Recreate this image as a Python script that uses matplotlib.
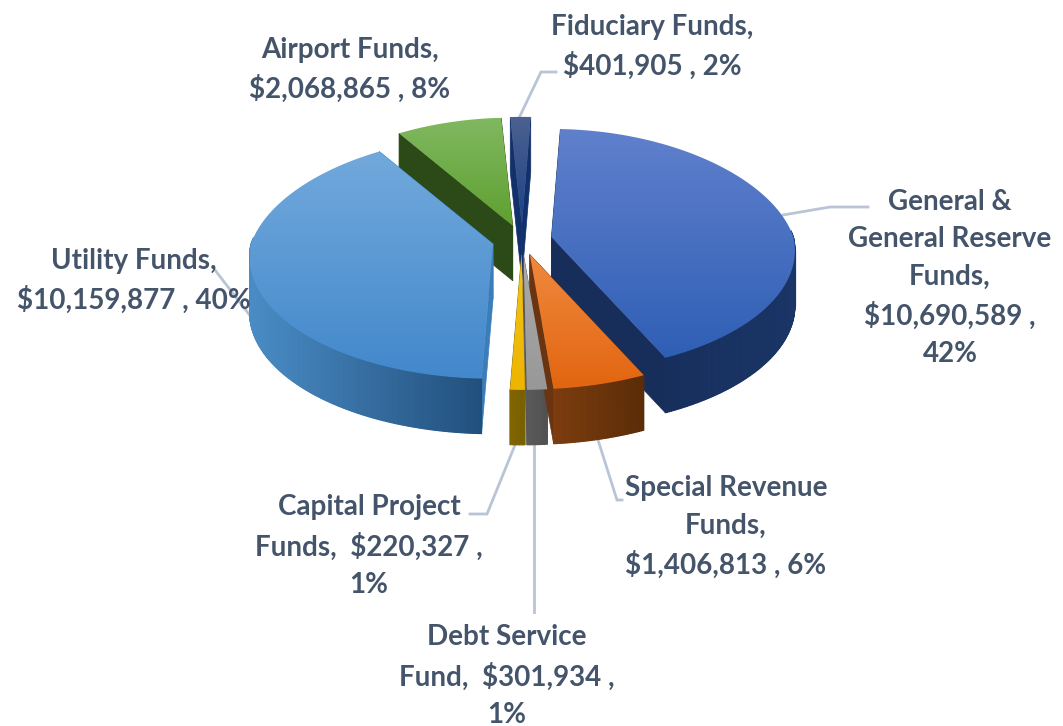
import numpy as np
import matplotlib
matplotlib.use("Agg")
import matplotlib.pyplot as plt
from matplotlib.colors import LinearSegmentedColormap, to_rgb
from matplotlib.patches import Polygon

# values, clockwise from the top of the pie
funds = ["General", "Special", "Debt", "Capital", "Utility", "Airport", "Fiduciary"]
amounts = [10690589, 1406813, 301934, 220327, 10159877, 2068865, 401905]

label_texts = [
    "General &\nGeneral Reserve\nFunds,\n$10,690,589 ,\n42%",
    "Special Revenue\nFunds,\n$1,406,813 , 6%",
    "Debt Service\nFund,  $301,934 ,\n1%",
    "Capital Project\nFunds,  $220,327 ,\n1%",
    "Utility Funds,\n$10,159,877 , 40%",
    "Airport Funds,\n$2,068,865 , 8%",
    "Fiduciary Funds,\n$401,905 , 2%",
]

# label centres in pixels
label_pos = [(950, 278), (726, 527), (507, 676), (369, 546), (134, 281), (350, 70), (652, 47)]

leaders = [
    [(783, 215), (830, 207), (868, 207)],
    [(598, 440), (617, 500), (622, 500)],
    [(534, 445), (534, 612)],
    [(515, 445), (487, 514), (470, 514)],
    [(215, 270), (258, 326)],
    None,
    [(519, 118), (541, 72), (556, 72)],
]

# top colours (upper, lower), wall colours (left, right), cut face colour
top_cols = [("#6080CC", "#2F5FB5"), ("#F0893F", "#E26510"), ("#ABABAB", "#989898"),
            ("#F5C518", "#EDB400"), ("#72A9DC", "#4288CB"), ("#80B860", "#5FA030"),
            ("#4C618F", "#1B4288")]
wall_cols = [("#142A55", "#1A3566"), ("#7C3C0E", "#5A2C08"), ("#5A5A5A", "#505050"),
             ("#806400", "#786000"), ("#4A8CC6", "#214F7C"), ("#2C4C18", "#2C4C18"),
             ("#1A3568", "#1A3568")]
face_cols = ["#172D5A", "#6B3410", "#555555", "#806400", "#3A7DB8", "#2C4A17", "#12306A"]

draw_order = [6, 5, 0, 4, 3, 2, 1]

CX, CY = 522, 240
RX, RY = 242, 120
PERSP = 0.11
DEPTH = 55
EXPLODE = 30
START = 2.5


def project(theta, ox, oy):
    t = np.radians(theta)
    f = 1 / (1 + PERSP * np.cos(t))
    # the far side narrows a little more than the simple perspective gives
    fx = f * (1 - 0.06 * np.clip(np.cos(t), 0, 1))
    return ox + RX * np.sin(t) * fx, oy - RY * np.cos(t) * f


fig = plt.figure(figsize=(10.63, 7.26), dpi=100)
ax = fig.add_axes([0, 0, 1, 1])
ax.set_xlim(0, 1063)
ax.set_ylim(726, 0)
ax.axis("off")

plt.rcParams["font.family"] = ["Lato", "DejaVu Sans"]

shares = np.array(amounts) / sum(amounts) * 360
starts = START + np.concatenate([[0], np.cumsum(shares)[:-1]])

for i in draw_order:
    a0, a1 = starts[i], starts[i] + shares[i]
    mid = np.radians((a0 + a1) / 2)
    ox = CX + EXPLODE * np.sin(mid)
    oy = CY - EXPLODE * 0.5 * np.cos(mid)

    angs = np.linspace(a0, a1, max(int(shares[i] * 2), 6))
    xs, ys = project(angs, ox, oy)

    # cut faces first
    for k in (0, -1):
        ax.add_patch(Polygon([(ox, oy), (xs[k], ys[k]), (xs[k], ys[k] + DEPTH), (ox, oy + DEPTH)],
                             closed=True, fc=face_cols[i], ec=face_cols[i], lw=0.5, zorder=2))

    # outer wall, strip by strip so it can shade across
    c0, c1 = np.array(to_rgb(wall_cols[i][0])), np.array(to_rgb(wall_cols[i][1]))
    x_lo, x_hi = xs.min(), xs.max()
    for j in range(len(angs) - 1):
        if np.cos(np.radians((angs[j] + angs[j + 1]) / 2)) > 0.05:
            continue
        w = ((xs[j] + xs[j + 1]) / 2 - x_lo) / max(x_hi - x_lo, 1)
        col = c0 + (c1 - c0) * w
        ax.add_patch(Polygon([(xs[j], ys[j]), (xs[j + 1], ys[j + 1]),
                              (xs[j + 1], ys[j + 1] + DEPTH), (xs[j], ys[j] + DEPTH)],
                             closed=True, fc=col, ec=col, lw=0.8, joinstyle="round", zorder=2))

    # top surface with a vertical shade, clipped to the wedge
    outline = [(ox, oy)] + list(zip(xs, ys))
    top = Polygon(outline, closed=True, fc="none", ec="none", zorder=3)
    ax.add_patch(top)
    y_lo, y_hi = min(ys.min(), oy), max(ys.max(), oy)
    cmap = LinearSegmentedColormap.from_list("t%d" % i, top_cols[i])
    im = ax.imshow(np.linspace(0, 1, 128).reshape(-1, 1), cmap=cmap, aspect="auto",
                   extent=[min(xs.min(), ox), max(xs.max(), ox), y_hi, y_lo], zorder=3,
                   interpolation="bilinear")
    im.set_clip_path(top)

ax.set_xlim(0, 1063)
ax.set_ylim(726, 0)

for pts in leaders:
    if pts is None:
        continue
    ax.plot([p[0] for p in pts], [p[1] for p in pts], color="#B9C5D6", lw=2, zorder=1,
            solid_joinstyle="miter")

for txt, (x, y) in zip(label_texts, label_pos):
    ax.text(x, y, txt, ha="center", va="center", fontsize=20, fontweight="bold",
            color="#44546A", linespacing=1.53, zorder=5)

fig.savefig("out.png", dpi=100, facecolor="white")
